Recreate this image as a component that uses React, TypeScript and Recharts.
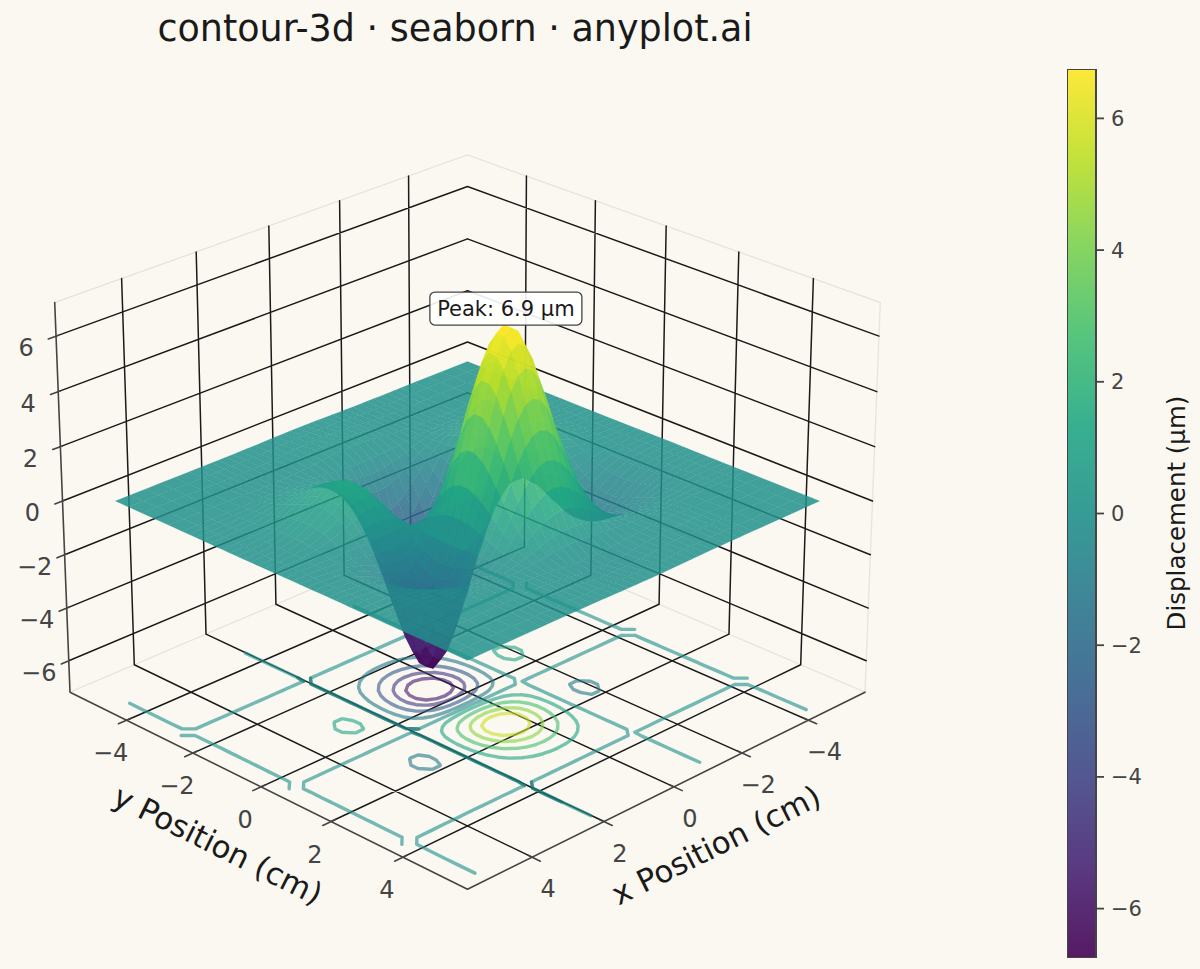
import React from 'react';
import { ScatterChart, Scatter, XAxis, YAxis, ReferenceArea } from 'recharts';

const X_VALUES = [-5, -4.6, -4.2, -3.8, -3.4, -3, -2.8, -2.6, -2.4, -2.2, -2, -1.8, -1.6, -1.4, -1.2, -1, -0.8, -0.6, -0.4, -0.2, 0, 0.2, 0.4, 0.6, 0.8, 1, 1.2, 1.4, 1.6, 1.8, 2, 2.2, 2.4, 2.6, 2.8, 3, 3.4, 3.8, 4.2, 4.6, 5];
const Y_VALUES = X_VALUES;

// displacement rows (um), one per x position
const ROW_00 = [0.026, 0.067, 0.136, 0.204, 0.17, -0.172, -0.538, -1.07, -1.78, -2.66, -3.65, -4.68, -5.65, -6.43, -6.88, -6.9, -6.41, -5.39, -3.9, -2.05, 0, 2.05, 3.9, 5.39, 6.41, 6.9, 6.88, 6.43, 5.65, 4.68, 3.65, 2.66, 1.78, 1.07, 0.538, 0.172, -0.17, -0.204, -0.136, -0.067, -0.026];
const ROW_02 = [0.025, 0.065, 0.132, 0.198, 0.165, -0.167, -0.522, -1.04, -1.73, -2.58, -3.54, -4.54, -5.49, -6.24, -6.68, -6.7, -6.22, -5.23, -3.79, -1.99, 0, 1.99, 3.79, 5.23, 6.22, 6.7, 6.68, 6.24, 5.49, 4.54, 3.54, 2.58, 1.73, 1.04, 0.522, 0.167, -0.165, -0.198, -0.132, -0.065, -0.025];
const ROW_04 = [0.023, 0.059, 0.121, 0.181, 0.151, -0.152, -0.477, -0.949, -1.58, -2.36, -3.24, -4.15, -5.01, -5.7, -6.1, -6.12, -5.68, -4.78, -3.46, -1.82, 0, 1.82, 3.46, 4.78, 5.68, 6.12, 6.1, 5.7, 5.01, 4.15, 3.24, 2.36, 1.58, 0.949, 0.477, 0.152, -0.151, -0.181, -0.121, -0.059, -0.023];
const ROW_06 = [0.02, 0.051, 0.103, 0.155, 0.129, -0.13, -0.408, -0.811, -1.35, -2.01, -2.76, -3.55, -4.28, -4.87, -5.21, -5.23, -4.86, -4.08, -2.95, -1.55, 0, 1.55, 2.95, 4.08, 4.86, 5.23, 5.21, 4.87, 4.28, 3.55, 2.76, 2.01, 1.35, 0.811, 0.408, 0.13, -0.129, -0.155, -0.103, -0.051, -0.02];
const ROW_08 = [0.016, 0.04, 0.081, 0.122, 0.102, -0.103, -0.322, -0.64, -1.06, -1.59, -2.18, -2.8, -3.38, -3.85, -4.12, -4.13, -3.84, -3.22, -2.33, -1.23, 0, 1.23, 2.33, 3.22, 3.84, 4.13, 4.12, 3.85, 3.38, 2.8, 2.18, 1.59, 1.06, 0.64, 0.322, 0.103, -0.102, -0.122, -0.081, -0.04, -0.016];
const ROW_10 = [0.011, 0.029, 0.058, 0.087, 0.072, -0.073, -0.229, -0.456, -0.758, -1.13, -1.55, -1.99, -2.41, -2.74, -2.93, -2.94, -2.73, -2.3, -1.66, -0.873, 0, 0.873, 1.66, 2.3, 2.73, 2.94, 2.93, 2.74, 2.41, 1.99, 1.55, 1.13, 0.758, 0.456, 0.229, 0.073, -0.072, -0.087, -0.058, -0.029, -0.011];
const ROW_12 = [0.0067, 0.017, 0.035, 0.052, 0.044, -0.044, -0.138, -0.275, -0.458, -0.684, -0.939, -1.2, -1.45, -1.65, -1.77, -1.77, -1.65, -1.39, -1, -0.527, 0, 0.527, 1, 1.39, 1.65, 1.77, 1.77, 1.65, 1.45, 1.2, 0.939, 0.684, 0.458, 0.275, 0.138, 0.044, -0.044, -0.052, -0.035, -0.017, -0.0067];
const ROW_14 = [0.0028, 0.0071, 0.0145, 0.022, 0.018, -0.018, -0.057, -0.114, -0.19, -0.284, -0.389, -0.499, -0.602, -0.685, -0.733, -0.736, -0.683, -0.575, -0.416, -0.219, 0, 0.219, 0.416, 0.575, 0.683, 0.736, 0.733, 0.685, 0.602, 0.499, 0.389, 0.284, 0.19, 0.114, 0.057, 0.018, -0.018, -0.022, -0.0145, -0.0071, -0.0028];
const ROW_16 = [-0.0004, -0.0011, -0.0022, -0.0032, -0.0027, 0.0027, 0.0086, 0.017, 0.028, 0.042, 0.058, 0.074, 0.09, 0.102, 0.109, 0.11, 0.102, 0.086, 0.062, 0.033, 0, -0.033, -0.062, -0.086, -0.102, -0.11, -0.109, -0.102, -0.09, -0.074, -0.058, -0.042, -0.028, -0.017, -0.0086, -0.0027, 0.0027, 0.0032, 0.0022, 0.0011, 0.0004];
const ROW_18 = [-0.0027, -0.007, -0.014, -0.021, -0.018, 0.018, 0.057, 0.112, 0.187, 0.28, 0.384, 0.492, 0.594, 0.676, 0.723, 0.725, 0.674, 0.566, 0.41, 0.215, 0, -0.215, -0.41, -0.566, -0.674, -0.725, -0.723, -0.676, -0.594, -0.492, -0.384, -0.28, -0.187, -0.112, -0.057, -0.018, 0.018, 0.021, 0.014, 0.007, 0.0027];
const ROW_20 = [-0.0042, -0.011, -0.022, -0.033, -0.027, 0.028, 0.086, 0.172, 0.286, 0.427, 0.586, 0.751, 0.907, 1.03, 1.1, 1.11, 1.03, 0.865, 0.626, 0.329, 0, -0.329, -0.626, -0.865, -1.03, -1.11, -1.1, -1.03, -0.907, -0.751, -0.586, -0.427, -0.286, -0.172, -0.086, -0.028, 0.027, 0.033, 0.022, 0.011, 0.0042];
const ROW_22 = [-0.0048, -0.012, -0.025, -0.038, -0.032, 0.032, 0.1, 0.199, 0.331, 0.495, 0.679, 0.87, 1.05, 1.2, 1.28, 1.28, 1.19, 1, 0.725, 0.381, 0, -0.381, -0.725, -1, -1.19, -1.28, -1.28, -1.2, -1.05, -0.87, -0.679, -0.495, -0.331, -0.199, -0.1, -0.032, 0.032, 0.038, 0.025, 0.012, 0.0048];
const ROW_24 = [-0.0049, -0.013, -0.025, -0.038, -0.032, 0.032, 0.101, 0.2, 0.333, 0.498, 0.683, 0.876, 1.06, 1.2, 1.29, 1.29, 1.2, 1.01, 0.73, 0.384, 0, -0.384, -0.73, -1.01, -1.2, -1.29, -1.29, -1.2, -1.06, -0.876, -0.683, -0.498, -0.333, -0.2, -0.101, -0.032, 0.032, 0.038, 0.025, 0.013, 0.0049];
const ROW_26 = [-0.0045, -0.011, -0.023, -0.035, -0.029, 0.029, 0.092, 0.183, 0.305, 0.456, 0.626, 0.802, 0.968, 1.1, 1.18, 1.18, 1.1, 0.924, 0.668, 0.351, 0, -0.351, -0.668, -0.924, -1.1, -1.18, -1.18, -1.1, -0.968, -0.802, -0.626, -0.456, -0.305, -0.183, -0.092, -0.029, 0.029, 0.035, 0.023, 0.011, 0.0045];
const ROW_28 = [-0.0038, -0.01, -0.02, -0.03, -0.025, 0.025, 0.078, 0.156, 0.259, 0.388, 0.532, 0.682, 0.823, 0.937, 1, 1.01, 0.934, 0.785, 0.568, 0.299, 0, -0.299, -0.568, -0.785, -0.934, -1.01, -1, -0.937, -0.823, -0.682, -0.532, -0.388, -0.259, -0.156, -0.078, -0.025, 0.025, 0.03, 0.02, 0.01, 0.0038];
const ROW_30 = [-0.003, -0.0078, -0.016, -0.024, -0.02, 0.02, 0.062, 0.124, 0.207, 0.309, 0.424, 0.543, 0.656, 0.747, 0.799, 0.801, 0.744, 0.626, 0.453, 0.238, 0, -0.238, -0.453, -0.626, -0.744, -0.801, -0.799, -0.747, -0.656, -0.543, -0.424, -0.309, -0.207, -0.124, -0.062, -0.02, 0.02, 0.024, 0.016, 0.0078, 0.003];
const ROW_34 = [-0.0016, -0.0041, -0.0084, -0.0126, -0.0105, 0.011, 0.033, 0.066, 0.11, 0.164, 0.225, 0.289, 0.349, 0.397, 0.424, 0.426, 0.395, 0.333, 0.241, 0.126, 0, -0.126, -0.241, -0.333, -0.395, -0.426, -0.424, -0.397, -0.349, -0.289, -0.225, -0.164, -0.11, -0.066, -0.033, -0.011, 0.0105, 0.0126, 0.0084, 0.0041, 0.0016];
const ROW_38 = [-0.0007, -0.0017, -0.0035, -0.0052, -0.0043, 0.0044, 0.0137, 0.027, 0.045, 0.068, 0.093, 0.119, 0.144, 0.163, 0.175, 0.175, 0.163, 0.137, 0.099, 0.052, 0, -0.052, -0.099, -0.137, -0.163, -0.175, -0.175, -0.163, -0.144, -0.119, -0.093, -0.068, -0.045, -0.027, -0.0137, -0.0044, 0.0043, 0.0052, 0.0035, 0.0017, 0.0007];
const ROW_42 = [-0.0002, -0.0005, -0.001, -0.0015, -0.0012, 0.0013, 0.004, 0.0079, 0.013, 0.02, 0.027, 0.034, 0.042, 0.047, 0.051, 0.051, 0.047, 0.04, 0.029, 0.015, 0, -0.015, -0.029, -0.04, -0.047, -0.051, -0.051, -0.047, -0.042, -0.034, -0.027, -0.02, -0.013, -0.0079, -0.004, -0.0013, 0.0012, 0.0015, 0.001, 0.0005, 0.0002];
const ROW_46 = [-0.00002, -0.00005, -0.0001, -0.00015, -0.00012, 0.00013, 0.0004, 0.0008, 0.0013, 0.0019, 0.0027, 0.0034, 0.0041, 0.0047, 0.005, 0.005, 0.0047, 0.0039, 0.0028, 0.0015, 0, -0.0015, -0.0028, -0.0039, -0.0047, -0.005, -0.005, -0.0047, -0.0041, -0.0034, -0.0027, -0.0019, -0.0013, -0.0008, -0.0004, -0.00013, 0.00012, 0.00015, 0.0001, 0.00005, 0.00002];
const ROW_50 = [0.00002, 0.00005, 0.0001, 0.00015, 0.00013, -0.00013, -0.0004, -0.0008, -0.0013, -0.002, -0.0027, -0.0035, -0.0042, -0.0048, -0.0051, -0.0051, -0.0047, -0.004, -0.0029, -0.0015, 0, 0.0015, 0.0029, 0.004, 0.0047, 0.0051, 0.0051, 0.0048, 0.0042, 0.0035, 0.0027, 0.002, 0.0013, 0.0008, 0.0004, 0.00013, -0.00013, -0.00015, -0.0001, -0.00005, -0.00002];
const Z_ROWS = [
    ROW_50, ROW_46, ROW_42, ROW_38, ROW_34, ROW_30, ROW_28, ROW_26, ROW_24, ROW_22, ROW_20, ROW_18, ROW_16, ROW_14, ROW_12, ROW_10, ROW_08, ROW_06, ROW_04, ROW_02,
    ROW_00,
    ROW_02, ROW_04, ROW_06, ROW_08, ROW_10, ROW_12, ROW_14, ROW_16, ROW_18, ROW_20, ROW_22, ROW_24, ROW_26, ROW_28, ROW_30, ROW_34, ROW_38, ROW_42, ROW_46, ROW_50,
];

const CONTOUR_LEVELS = [-5.7, -4.4, -2.8, -1.18, 0, 1.18, 2.8, 4.4, 5.7];
const X_TICKS = [-4, -2, 0, 2, 4];
const Y_TICKS = [-4, -2, 0, 2, 4];
const Z_TICKS = [-6, -4, -2, 0, 2, 4, 6];
const COLORBAR_TICKS = [-6, -4, -2, 0, 2, 4, 6];
const COLOR_LIMIT = 6.75;
const XY_LIMIT = 5.75;
const Z_LIMIT = 7.2;
const CONTOUR_Z = -7.75;

const BG = '#faf8f1';
const INK = '#1a1a1a';
const MUTED = '#444444';
const FONT = '"DejaVu Sans", sans-serif';
const VIRIDIS = ['#440154', '#482475', '#414487', '#355f8d', '#2a788e', '#21918c', '#22a884', '#44bf70', '#7ad151', '#bddf26', '#fde725'];

// view of elev 25, azim 45, camera distance 10
const COS_E = Math.cos((25 * Math.PI) / 180);
const SIN_E = Math.sin((25 * Math.PI) / 180);
const BOX_XY = 0.595;
const BOX_Z = 0.4465;
const FOCAL = 4813;
const U_DOMAIN = [-467.5 / FOCAL, 732.5 / FOCAL];
const V_DOMAIN = [-468 / FOCAL, 501 / FOCAL];

function project(x: number, y: number, z: number) {
    const bx = (x / XY_LIMIT) * BOX_XY;
    const by = (y / XY_LIMIT) * BOX_XY;
    const bz = (z / Z_LIMIT) * BOX_Z;
    const lateral = (by - bx) * Math.SQRT1_2;
    const front = (bx + by) * Math.SQRT1_2;
    const depth = 10 - (front * COS_E + bz * SIN_E);
    return { u: lateral / depth, v: (bz * COS_E - front * SIN_E) / depth, depth };
}

function hexToRgb(hex: string) {
    return [1, 3, 5].map(i => parseInt(hex.slice(i, i + 2), 16));
}

function viridis(value: number) {
    const t = Math.max(0, Math.min(1, (value + COLOR_LIMIT) / (2 * COLOR_LIMIT))) * (VIRIDIS.length - 1);
    const i = Math.min(Math.floor(t), VIRIDIS.length - 2);
    const a = hexToRgb(VIRIDIS[i]);
    const b = hexToRgb(VIRIDIS[i + 1]);
    const c = a.map((v, k) => Math.round(v + (b[k] - v) * (t - i)));
    return `rgb(${c[0]},${c[1]},${c[2]})`;
}

// surface cells back to front, four corners each
const cells: { corners: ReturnType<typeof project>[]; color: string; depth: number }[] = [];
for (let i = 0; i < X_VALUES.length - 1; i++) {
    for (let j = 0; j < Y_VALUES.length - 1; j++) {
        const corners = [
            project(X_VALUES[i], Y_VALUES[j], Z_ROWS[i][j]),
            project(X_VALUES[i + 1], Y_VALUES[j], Z_ROWS[i + 1][j]),
            project(X_VALUES[i + 1], Y_VALUES[j + 1], Z_ROWS[i + 1][j + 1]),
            project(X_VALUES[i], Y_VALUES[j + 1], Z_ROWS[i][j + 1]),
        ];
        const mean = (Z_ROWS[i][j] + Z_ROWS[i + 1][j] + Z_ROWS[i + 1][j + 1] + Z_ROWS[i][j + 1]) / 4;
        cells.push({ corners, color: viridis(mean), depth: corners.reduce((s, c) => s + c.depth, 0) / 4 });
    }
}
cells.sort((a, b) => b.depth - a.depth);
const surfacePoints = cells.flatMap(c => c.corners);

// marching squares over the table for the floor contours
function contourPoints(level: number, keep?: (i: number, j: number) => boolean) {
    const out: ReturnType<typeof project>[] = [];
    const edgePoint = (i0: number, j0: number, i1: number, j1: number) => {
        const a = Z_ROWS[i0][j0];
        const b = Z_ROWS[i1][j1];
        const t = (level - a) / (b - a);
        return project(
            X_VALUES[i0] + (X_VALUES[i1] - X_VALUES[i0]) * t,
            Y_VALUES[j0] + (Y_VALUES[j1] - Y_VALUES[j0]) * t,
            CONTOUR_Z,
        );
    };
    for (let i = 0; i < X_VALUES.length - 1; i++) {
        for (let j = 0; j < Y_VALUES.length - 1; j++) {
            if (keep && !keep(i, j)) continue;
            const za = Z_ROWS[i][j];
            const zb = Z_ROWS[i + 1][j];
            const zc = Z_ROWS[i + 1][j + 1];
            const zd = Z_ROWS[i][j + 1];
            const index = (za >= level ? 1 : 0) + (zb >= level ? 2 : 0) + (zc >= level ? 4 : 0) + (zd >= level ? 8 : 0);
            if (index === 0 || index === 15) continue;
            const e = [
                () => edgePoint(i, j, i + 1, j),
                () => edgePoint(i + 1, j, i + 1, j + 1),
                () => edgePoint(i + 1, j + 1, i, j + 1),
                () => edgePoint(i, j + 1, i, j),
            ];
            const centerIn = (za + zb + zc + zd) / 4 >= level;
            const pairs: Record<number, number[][]> = {
                1: [[3, 0]], 2: [[0, 1]], 3: [[3, 1]], 4: [[1, 2]], 6: [[0, 2]], 7: [[3, 2]], 8: [[2, 3]],
                9: [[0, 2]], 11: [[1, 2]], 12: [[1, 3]], 13: [[0, 1]], 14: [[0, 3]],
                5: centerIn ? [[0, 1], [2, 3]] : [[3, 0], [1, 2]],
                10: centerIn ? [[3, 0], [1, 2]] : [[0, 1], [2, 3]],
            };
            pairs[index].forEach(([p, q]) => out.push(e[p](), e[q]()));
        }
    }
    return out;
}

// the zero line near x = 1.6 is drawn darker in the picture, over y -3.4 to 4.2
const darkZeroLine = contourPoints(0, (i, j) => X_VALUES[i] === 1.4 && Y_VALUES[j] >= -3.4 && Y_VALUES[j + 1] <= 4.2);

// wall and floor grid
const L = XY_LIMIT;
const Z = Z_LIMIT;
const gridPoints: ReturnType<typeof project>[] = [];
const addLine = (list: ReturnType<typeof project>[], a: number[], b: number[]) => {
    list.push(project(a[0], a[1], a[2]), project(b[0], b[1], b[2]));
};
X_TICKS.forEach(t => {
    addLine(gridPoints, [t, -L, Z], [t, -L, -Z]);
    addLine(gridPoints, [t, -L, -Z], [t, L, -Z]);
});
Y_TICKS.forEach(t => {
    addLine(gridPoints, [-L, t, Z], [-L, t, -Z]);
    addLine(gridPoints, [-L, t, -Z], [L, t, -Z]);
});
Z_TICKS.forEach(t => {
    addLine(gridPoints, [L, -L, t], [-L, -L, t]);
    addLine(gridPoints, [-L, -L, t], [-L, L, t]);
});

const paneEdges: ReturnType<typeof project>[] = [];
addLine(paneEdges, [L, -L, Z], [-L, -L, Z]);
addLine(paneEdges, [-L, -L, Z], [-L, L, Z]);
addLine(paneEdges, [L, -L, -Z], [-L, -L, -Z]);
addLine(paneEdges, [-L, -L, -Z], [-L, L, -Z]);
addLine(paneEdges, [-L, L, Z], [-L, L, -Z]);

const axisEdges: ReturnType<typeof project>[] = [];
addLine(axisEdges, [L, -L, Z], [L, -L, -Z]);
addLine(axisEdges, [L, -L, -Z], [L, L, -Z]);
addLine(axisEdges, [L, L, -Z], [-L, L, -Z]);
X_TICKS.forEach(t => addLine(axisEdges, [t, L - 0.12, -Z], [t, L + 0.22, -Z]));
Y_TICKS.forEach(t => addLine(axisEdges, [L - 0.12, t, -Z], [L + 0.22, t, -Z]));
Z_TICKS.forEach(t => addLine(axisEdges, [L - 0.05, -L, t], [L + 0.2, -L, t]));

const minus = (n: number) => String(n).replace('-', '\u2212');
const xLabels = X_TICKS.map(t => ({ ...project(t, L, -Z), label: minus(t) }));
const yLabels = Y_TICKS.map(t => ({ ...project(L, t, -Z), label: minus(t) }));
const zLabels = Z_TICKS.map(t => ({ ...project(L, -L, t), label: minus(t) }));
const xTitle = [{ ...project(0, L, -Z), label: 'x Position (cm)' }];
const yTitle = [{ ...project(L, 0, -Z), label: 'y Position (cm)' }];
const peakNote = [{ ...project(0.05, 1.11, 7.54), label: 'Peak: 6.9 \u00b5m' }];
const colorbarEnds = [{ a: 0, b: -COLOR_LIMIT }, { a: 1, b: COLOR_LIMIT }];

const NoDot = () => <g />;

const segments = (stroke: string, width: number, opacity = 1) => (props: any) => {
    let d = '';
    for (let i = 0; i + 1 < props.points.length; i += 2) {
        const a = props.points[i];
        const b = props.points[i + 1];
        d += `M${a.x.toFixed(2)} ${a.y.toFixed(2)}L${b.x.toFixed(2)} ${b.y.toFixed(2)}`;
    }
    return <path d={d} fill="none" stroke={stroke} strokeWidth={width} strokeOpacity={opacity} strokeLinecap="round" strokeLinejoin="round" />;
};

const surfaceShape = (props: any) => (
    <g>
        {cells.map((c, n) => {
            const pts = props.points.slice(n * 4, n * 4 + 4).map((p: any) => `${p.x.toFixed(2)},${p.y.toFixed(2)}`).join(' ');
            return <polygon key={n} points={pts} fill={c.color} fillOpacity={0.85} stroke={c.color} strokeWidth={0.25} strokeOpacity={0.6} />;
        })}
    </g>
);

const labelAt = (dx: number, dy: number, size: number, fill: string, angle = 0) => (props: any) => {
    const x = props.cx + dx;
    const y = props.cy + dy;
    return (
        <text x={x} y={y} fontSize={size} fill={fill} fontFamily={FONT} textAnchor="middle" dominantBaseline="central" transform={angle ? `rotate(${angle} ${x} ${y})` : undefined}>
            {props.payload.label}
        </text>
    );
};

const peakBox = (props: any) => (
    <g>
        <rect x={props.cx - 76} y={props.cy - 17} width={152} height={33} rx={5} fill="#ffffff" fillOpacity={0.9} stroke={MUTED} strokeWidth={1.3} />
        <text x={props.cx} y={props.cy} fontSize={21} fill={INK} fontFamily={FONT} textAnchor="middle" dominantBaseline="central">{props.payload.label}</text>
    </g>
);

const Layer3D = (data: any[], extra: any) => (
    <Scatter data={data} isAnimationActive={false} shape={NoDot} legendType="none" {...extra} />
);

export default function App() {
    return (
        <div style={{ position: 'absolute', left: 0, top: 0, width: 1200, height: 969, background: BG, overflow: 'hidden', fontFamily: FONT }}>
            <div style={{ position: 'absolute', left: 455, top: 28, transform: 'translate(-50%,-50%)', fontSize: 36.5, color: INK, whiteSpace: 'nowrap' }}>
                contour-3d · seaborn · anyplot.ai
            </div>
            <div style={{ position: 'absolute', left: 0, top: 0 }}>
                <ScatterChart width={1200} height={969} margin={{ top: 0, right: 0, bottom: 0, left: 0 }}>
                    <XAxis type="number" dataKey="u" domain={U_DOMAIN} allowDataOverflow hide />
                    <YAxis type="number" dataKey="v" domain={V_DOMAIN} allowDataOverflow hide />
                    {Layer3D(paneEdges, { line: segments('#e8e5de', 1.4) })}
                    {Layer3D(gridPoints, { line: segments('#1a1a1a', 1.5) })}
                    {Layer3D(axisEdges, { line: segments(MUTED, 1.6) })}
                    {CONTOUR_LEVELS.map(level => (
                        <Scatter key={level} data={contourPoints(level)} isAnimationActive={false} shape={NoDot} legendType="none" line={segments(viridis(level), 3.4, 0.62)} />
                    ))}
                    {Layer3D(darkZeroLine, { line: segments('#0f6a68', 3.4, 0.55) })}
                    {Layer3D(surfacePoints, { line: surfaceShape })}
                    <Scatter data={peakNote} isAnimationActive={false} shape={peakBox} legendType="none" />
                    <Scatter data={xLabels} isAnimationActive={false} shape={labelAt(16, 32, 24, MUTED)} legendType="none" />
                    <Scatter data={yLabels} isAnimationActive={false} shape={labelAt(-16, 33, 24, MUTED)} legendType="none" />
                    <Scatter data={zLabels} isAnimationActive={false} shape={labelAt(-30, 12, 24, MUTED)} legendType="none" />
                    <Scatter data={xTitle} isAnimationActive={false} shape={labelAt(42, 58, 30.8, INK, -26.5)} legendType="none" />
                    <Scatter data={yTitle} isAnimationActive={false} shape={labelAt(-43, 58, 30.8, INK, 26.5)} legendType="none" />
                </ScatterChart>
            </div>
            <div style={{ position: 'absolute', left: 1067, top: 69 }}>
                <ScatterChart width={133} height={889} margin={{ top: 0, right: 0, bottom: 0, left: 0 }}>
                    <defs>
                        <linearGradient id="viridisBar" x1="0" y1="1" x2="0" y2="0">
                            {VIRIDIS.map((c, i) => (
                                <stop key={c} offset={i / (VIRIDIS.length - 1)} stopColor={c} stopOpacity={0.9} />
                            ))}
                        </linearGradient>
                    </defs>
                    <XAxis type="number" dataKey="a" domain={[0, 1]} hide />
                    <YAxis
                        type="number"
                        dataKey="b"
                        orientation="right"
                        width={104}
                        domain={[-COLOR_LIMIT, COLOR_LIMIT]}
                        ticks={COLORBAR_TICKS}
                        interval={0}
                        allowDataOverflow
                        axisLine={false}
                        tickSize={8}
                        tickMargin={7}
                        tickLine={{ stroke: MUTED, strokeWidth: 1.8 }}
                        tick={{ fill: MUTED, fontSize: 21, fontFamily: FONT }}
                        tickFormatter={minus}
                    />
                    <Scatter data={colorbarEnds} isAnimationActive={false} shape={NoDot} legendType="none" />
                    <ReferenceArea x1={0} x2={1} y1={-COLOR_LIMIT} y2={COLOR_LIMIT} fill="url(#viridisBar)" fillOpacity={1} stroke={MUTED} strokeWidth={2} ifOverflow="visible" />
                </ScatterChart>
            </div>
            <div style={{ position: 'absolute', left: 1176, top: 513, transform: 'translate(-50%,-50%) rotate(-90deg)', fontSize: 24.5, color: INK, whiteSpace: 'nowrap' }}>
                Displacement (µm)
            </div>
        </div>
    );
}
